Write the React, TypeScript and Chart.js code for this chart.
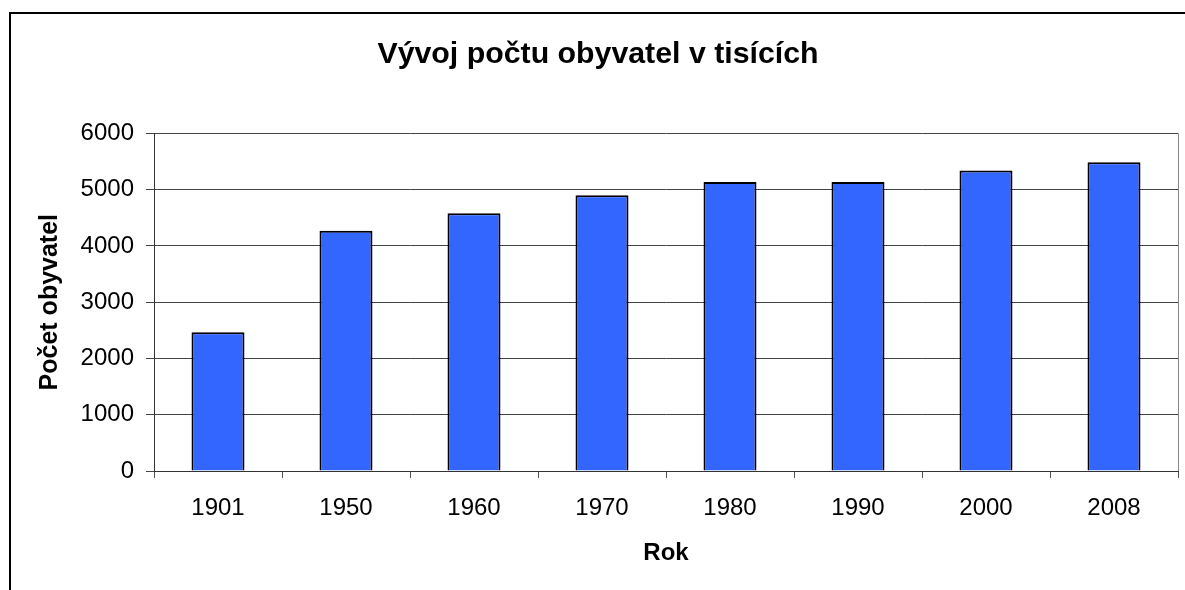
import React, { useEffect, useRef } from "react";
import { Chart, registerables } from "chart.js";

Chart.register(...registerables);

const years = ["1901", "1950", "1960", "1970", "1980", "1990", "2000", "2008"];
const population = [2465, 4270, 4580, 4900, 5135, 5135, 5340, 5485];
const yTicks = [0, 1000, 2000, 3000, 4000, 5000, 6000];

const chartTitle = "Vývoj počtu obyvatel v tisících";
const xTitle = "Rok";
const yTitle = "Počet obyvatel";

const FONT = "'Liberation Sans', Arial, Helvetica, sans-serif";

const framePlugin = {
  id: "frame",
  beforeDraw(chart: any) {
    const ctx = chart.ctx;
    ctx.save();
    ctx.fillStyle = "#ffffff";
    ctx.fillRect(0, 0, chart.width, chart.height);
    ctx.strokeStyle = "#000000";
    ctx.lineWidth = 2;
    ctx.strokeRect(10, 13, chart.width + 20, chart.height + 20);
    ctx.restore();
  },
  afterDatasetsDraw(chart: any) {
    const { ctx, chartArea } = chart;
    ctx.save();
    ctx.strokeStyle = "#888888";
    ctx.lineWidth = 1;
    ctx.beginPath();
    ctx.moveTo(chartArea.right + 0.5, chartArea.top);
    ctx.lineTo(chartArea.right + 0.5, chartArea.bottom);
    ctx.stroke();
    ctx.restore();
  },
};

export default function App() {
  const ref = useRef<HTMLCanvasElement | null>(null);

  useEffect(() => {
    if (!ref.current) return;
    const chart = new Chart(ref.current, {
      type: "bar",
      data: {
        labels: years,
        datasets: [
          {
            data: population,
            backgroundColor: "#3366FF",
            borderColor: "#000000",
            borderWidth: 2,
            barPercentage: 0.414,
            categoryPercentage: 1,
          },
        ],
      },
      options: {
        animation: false,
        responsive: false,
        devicePixelRatio: 1,
        layout: { padding: { left: 18, right: 7, top: 0, bottom: 0 } },
        plugins: {
          legend: { display: false },
          tooltip: { enabled: false },
          title: {
            display: true,
            text: chartTitle,
            color: "#000000",
            font: { family: FONT, size: 30.3, weight: "bold", lineHeight: 1.2 },
            padding: { top: 36, bottom: 61 },
          },
        },
        scales: {
          x: {
            grid: {
              display: true,
              drawOnChartArea: false,
              drawTicks: true,
              tickLength: 7,
              color: "#555555",
              offset: true,
            },
            border: { display: true, color: "#333333", width: 1 },
            ticks: {
              color: "#000000",
              font: { family: FONT, size: 24 },
              padding: 16,
              maxRotation: 0,
            },
            title: {
              display: true,
              text: xTitle,
              color: "#000000",
              font: { family: FONT, size: 24, weight: "bold", lineHeight: 1.2 },
              padding: { top: 0, bottom: 22.6 },
            },
            afterFit(scale: any) {
              scale.height = 119;
            },
          },
          y: {
            min: 0,
            max: 6000,
            afterBuildTicks(scale: any) {
              scale.ticks = yTicks.map((v) => ({ value: v }));
            },
            grid: {
              color: "#444444",
              lineWidth: 1,
              drawTicks: true,
              tickLength: 8,
            },
            border: { display: true, color: "#333333", width: 1 },
            ticks: {
              color: "#000000",
              font: { family: FONT, size: 24 },
              padding: 12,
              callback: (v: any) => String(v),
            },
            title: {
              display: true,
              text: yTitle,
              color: "#000000",
              font: { family: FONT, size: 25, weight: "bold", lineHeight: 1.2 },
              padding: { top: 17, bottom: 0 },
            },
            afterFit(scale: any) {
              scale.width = 136;
            },
          },
        },
      },
      plugins: [framePlugin],
    });
    return () => chart.destroy();
  }, []);

  return (
    <div style={{ position: "fixed", left: 0, top: 0, width: 1185, height: 590, background: "#fff" }}>
      <canvas ref={ref} width={1185} height={590} style={{ display: "block" }} />
    </div>
  );
}
